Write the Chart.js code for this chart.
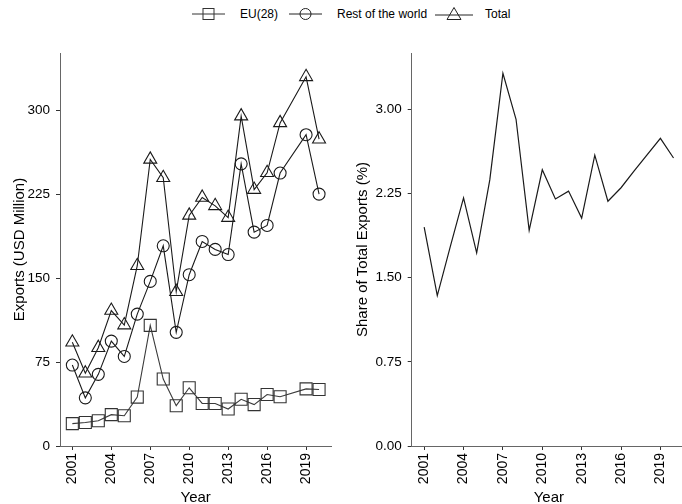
<!DOCTYPE html>
<html>
<head>
<meta charset="utf-8">
<script src="https://cdn.jsdelivr.net/npm/chart.js@4"></script>
<style>
  html, body { margin: 0; padding: 0; background: #fff; overflow: hidden; }
  body { width: 682px; height: 504px; position: relative; font-family: "Liberation Sans", Arial, sans-serif; }
  #legend { position: absolute; top: 5px; left: 192px; height: 18px; display: flex; align-items: center; font-size: 12px; color: #000; white-space: nowrap; }
  #legend span { margin: 0 11px 0 15px; }
  #legend svg { display: block; }
  #left { position: absolute; left: 0; top: 0; }
  #right { position: absolute; left: 341px; top: 0; }
</style>
</head>
<body>
<div id="legend">
  <svg width="33" height="16"><line x1="0" y1="8" x2="33" y2="8" stroke="#333"/><rect x="11" y="2.5" width="11" height="11" fill="none" stroke="#333"/></svg><span>EU(28)</span>
  <svg width="33" height="16"><line x1="0" y1="8" x2="33" y2="8" stroke="#222"/><circle cx="16.5" cy="8" r="5.5" fill="none" stroke="#222"/></svg><span style="margin-right:8px">Rest of the world</span>
  <svg width="38" height="16"><line x1="0" y1="9" x2="38" y2="9" stroke="#222"/><polygon points="19,1.5 26,13.5 12,13.5" fill="none" stroke="#222"/></svg><span style="margin-left:12px">Total</span>
</div>
<canvas id="left" width="341" height="508"></canvas>
<canvas id="right" width="360" height="508"></canvas>
<script>
const years = [2001, 2002, 2003, 2004, 2005, 2006, 2007, 2008, 2009, 2010,
    2011, 2012, 2013, 2014, 2015, 2016, 2017, 2018, 2019, 2020];
const euExports = [20, 21, 22.6, 28, 27, 43.7, 107.7, 59.8, 36, 52,
    38, 38, 33, 41.7, 37, 46, 44, null, 51, 50.5];
const restExports = [72.3, 43, 64, 93.7, 80, 117.8, 147, 178.8, 101.5, 153,
    182.7, 175.6, 171, 252, 191, 197, 243.8, null, 278, 225];
const totalExports = [92.6, 65, 87.8, 121, 108, 161, 256, 239.6, 137.8, 206,
    222, 214.5, 204, 294.6, 229, 244, 288.6, null, 329.7, 274];
const shareOfTotal = [1.95, 1.34, 1.78, 2.21, 1.72, 2.37, 3.32, 2.91, 1.92, 2.46,
    2.20, 2.27, 2.03, 2.59, 2.18, 2.30, 2.45, null, 2.74, 2.565];

const yearTicks = [2001, 2004, 2007, 2010, 2013, 2016, 2019];
const exportTicks = [0, 75, 150, 225, 300];
const shareTicks = [0, 0.75, 1.5, 2.25, 3];

const font = 'Liberation Sans, Arial, sans-serif';

function pairs(values) {
    return years.map((yr, i) => ({ x: yr, y: values[i] }));
}

function xScale() {
    return {
        type: 'linear',
        min: 2000.05,
        max: 2020.95,
        afterBuildTicks: (s) => { s.ticks = yearTicks.map(v => ({ value: v })); },
        afterFit: (s) => { s.height = 62; },
        ticks: {
            minRotation: 90, maxRotation: 90, padding: 3,
            color: '#000', font: { family: font, size: 14 },
            callback: (v) => String(v)
        },
        grid: { drawOnChartArea: false, drawTicks: true, tickLength: 4, color: '#333' },
        border: { display: true, color: '#666', width: 1 },
        title: { display: true, text: 'Year', color: '#000', font: { family: font, size: 15 }, padding: { top: 0, bottom: 1 } }
    };
}

function yScale(max, ticks, label, width, titlePad, fmt) {
    return {
        type: 'linear',
        min: 0,
        max: max,
        afterBuildTicks: (s) => { s.ticks = ticks.map(v => ({ value: v })); },
        afterFit: (s) => { s.width = width; },
        ticks: {
            padding: 6, color: '#000', font: { family: font, size: 13.5 },
            callback: fmt
        },
        grid: { drawOnChartArea: false, drawTicks: true, tickLength: 4, color: '#333' },
        border: { display: true, color: '#666', width: 1 },
        title: { display: true, text: label, color: '#000', font: { family: font, size: 15 }, padding: { top: titlePad, bottom: 0 } }
    };
}

Chart.defaults.animation = false;

new Chart(document.getElementById('left'), { // eslint-disable-line
    type: 'line',
    data: {
        datasets: [
            {
                label: 'EU(28)',
                data: pairs(euExports),
                borderColor: '#3a3a3a',
                borderWidth: 1.1,
                pointStyle: 'rect',
                pointRadius: 8.5,
                pointBorderColor: '#333',
                pointBackgroundColor: 'rgba(0,0,0,0)',
                pointBorderWidth: 1.1,
                spanGaps: true
            },
            {
                label: 'Rest of the world',
                data: pairs(restExports),
                borderColor: '#1a1a1a',
                borderWidth: 1.1,
                pointStyle: 'circle',
                pointRadius: 6,
                pointBorderColor: '#1a1a1a',
                pointBackgroundColor: 'rgba(0,0,0,0)',
                pointBorderWidth: 1.1,
                spanGaps: true
            },
            {
                label: 'Total',
                data: pairs(totalExports),
                borderColor: '#1a1a1a',
                borderWidth: 1.1,
                pointStyle: 'triangle',
                pointRadius: 7.5,
                pointBorderColor: '#1a1a1a',
                pointBackgroundColor: 'rgba(0,0,0,0)',
                pointBorderWidth: 1.1,
                spanGaps: true
            }
        ]
    },
    options: {
        responsive: false,
        layout: { padding: { top: 53, right: 2, left: 0, bottom: 0 } },
        plugins: { legend: { display: false }, tooltip: { enabled: false } },
        scales: {
            x: xScale(),
            y: yScale(351, exportTicks, 'Exports (USD Million)', 60, 11, (v) => String(v))
        }
    }
});

new Chart(document.getElementById('right'), { // eslint-disable-line
    type: 'line',
    data: {
        datasets: [
            {
                label: 'Share of Total Exports (%)',
                data: pairs(shareOfTotal),
                borderColor: '#1a1a1a',
                borderWidth: 1.2,
                pointRadius: 0,
                spanGaps: true
            }
        ]
    },
    options: {
        responsive: false,
        layout: { padding: { top: 53, right: 15, left: 0, bottom: 0 } },
        plugins: { legend: { display: false }, tooltip: { enabled: false } },
        scales: {
            x: xScale(),
            y: yScale(3.5, shareTicks, 'Share of Total Exports (%)', 70.7, 13, (v) => v.toFixed(2))
        }
    }
});
</script>
</body>
</html>
